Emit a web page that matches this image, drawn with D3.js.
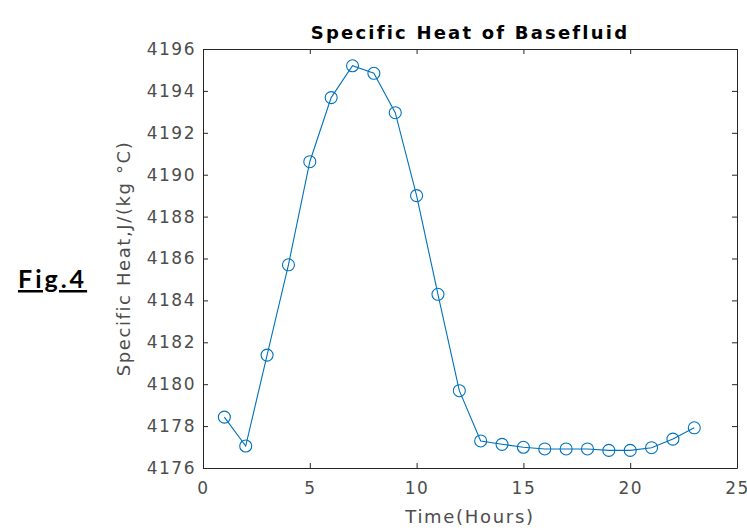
<!DOCTYPE html>
<html>
<head>
<meta charset="utf-8">
<script src="https://cdn.jsdelivr.net/npm/d3@7"></script>
<style>
  body { margin: 0; background: #fff; }
  svg text { font-family: "DejaVu Sans", sans-serif; }
</style>
</head>
<body>
<svg id="chart" width="747" height="531"></svg>
<script>
// data
const hours = [1, 2, 3, 4, 5, 6, 7, 8, 9, 10, 11, 12, 13, 14, 15, 16, 17, 18, 19, 20, 21, 22, 23];
const heat = [4178.43, 4177.05, 4181.39, 4185.70, 4190.62, 4193.68, 4195.20, 4194.84, 4192.96, 4189.00,
              4184.29, 4179.69, 4177.29, 4177.13, 4176.99, 4176.91, 4176.91, 4176.91, 4176.84, 4176.84,
              4176.97, 4177.38, 4177.92];
const xTicks = [0, 5, 10, 15, 20, 25];
const yTicks = [4176, 4178, 4180, 4182, 4184, 4186, 4188, 4190, 4192, 4194, 4196];

const margin = { left: 203, right: 10, top: 49, bottom: 63 };
const width = 747, height = 531;

const svg = d3.select('#chart');

const x = d3.scaleLinear().domain([0, 25]).range([margin.left, width - margin.right]);
const y = d3.scaleLinear().domain([4176, 4196]).range([height - margin.bottom, margin.top]);

const axisColor = '#262626';
const labelColor = '#4d4d4d';

// bottom / left axes with inward ticks
const gx = svg.append('g')
    .attr('transform', `translate(0,${y(4176)})`)
    .call(d3.axisBottom(x).tickValues(xTicks).tickSizeInner(-5).tickSizeOuter(0).tickPadding(14));
const gy = svg.append('g')
    .attr('transform', `translate(${x(0)},0)`)
    .call(d3.axisLeft(y).tickValues(yTicks).tickSizeInner(-5).tickSizeOuter(0).tickPadding(7).tickFormat(d3.format('d')));
// top / right mirrors
const gxt = svg.append('g')
    .attr('transform', `translate(0,${y(4196)})`)
    .call(d3.axisTop(x).tickValues(xTicks).tickSizeInner(-5).tickSizeOuter(0).tickFormat(''));
const gyr = svg.append('g')
    .attr('transform', `translate(${x(25)},0)`)
    .call(d3.axisRight(y).tickValues(yTicks).tickSizeInner(-5).tickSizeOuter(0).tickFormat(''));

[gx, gy, gxt, gyr].forEach(g => {
    g.selectAll('path, line').attr('stroke', axisColor).attr('stroke-width', 1);
    g.selectAll('text').attr('fill', labelColor)
        .style('font-size', '17px')
        .style('letter-spacing', '1.5px');
});

// line + markers
const line = d3.line().x((d, i) => x(hours[i])).y(d => y(d));
svg.append('path')
    .datum(heat)
    .attr('d', line)
    .attr('fill', 'none')
    .attr('stroke', '#0072BD')
    .attr('stroke-width', 1.1);

svg.append('g')
    .selectAll('circle')
    .data(heat)
    .enter()
    .append('circle')
    .attr('cx', (d, i) => x(hours[i]))
    .attr('cy', d => y(d))
    .attr('r', 6)
    .attr('fill', 'none')
    .attr('stroke', '#0072BD')
    .attr('stroke-width', 1.1);

// titles
svg.append('text')
    .attr('x', (x(0) + x(25)) / 2)
    .attr('y', 39)
    .attr('text-anchor', 'middle')
    .style('font-size', '18px')
    .style('font-weight', 'bold')
    .style('letter-spacing', '2.2px')
    .attr('fill', '#000')
    .text('Specific Heat of Basefluid');

svg.append('text')
    .attr('x', (x(0) + x(25)) / 2)
    .attr('y', 523)
    .attr('text-anchor', 'middle')
    .style('font-size', '18px')
    .style('letter-spacing', '1.7px')
    .attr('fill', labelColor)
    .text('Time(Hours)');

svg.append('text')
    .attr('transform', `translate(130,${(y(4176) + y(4196)) / 2}) rotate(-90)`)
    .attr('text-anchor', 'middle')
    .style('font-size', '18px')
    .style('letter-spacing', '1.6px')
    .attr('fill', labelColor)
    .text('Specific Heat,J/(kg °C)');

// figure tag
svg.append('text')
    .attr('x', 18)
    .attr('y', 288)
    .style('font-family', 'Lato, sans-serif')
    .style('font-size', '25px')
    .style('font-weight', 'bold')
    .style('letter-spacing', '3px')
    .style('text-decoration', 'underline')
    .attr('fill', '#000')
    .text('Fig.4');
</script>
</body>
</html>
